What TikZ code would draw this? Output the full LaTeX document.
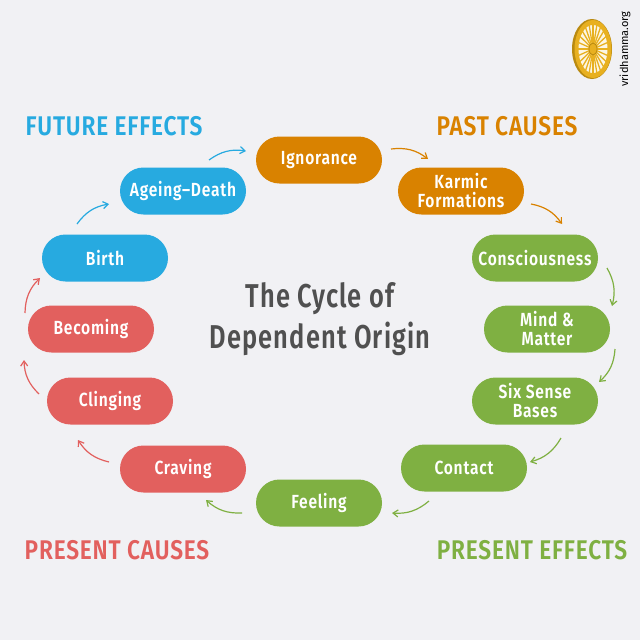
\documentclass[tikz,border=0pt]{standalone}
\usepackage{fontspec}
\setmainfont{Fira Sans}
\newfontfamily\nodef[FakeStretch=0.82,LetterSpace=4]{Fira Sans SemiBold}
\newfontfamily\headf[FakeStretch=0.84,LetterSpace=3]{Fira Sans SemiBold}
\newfontfamily\titlef[FakeStretch=0.77,LetterSpace=3.5]{Fira Sans SemiBold}
\usetikzlibrary{arrows.meta,shapes.misc}
\definecolor{bgc}{HTML}{F1F1F4}
\definecolor{oc}{HTML}{D98200}
\definecolor{gc}{HTML}{7FB042}
\definecolor{rc}{HTML}{E2605E}
\definecolor{bc}{HTML}{27AAE0}
\definecolor{tc}{HTML}{505050}
\definecolor{gold}{HTML}{E8B020}
\definecolor{goldd}{HTML}{B98A10}
\tikzset{
  pill/.style={rounded rectangle,minimum width=126pt,minimum height=47pt,inner sep=0pt,
    text=white,align=center,font=\nodef\fontsize{19}{19}\selectfont},
  conn/.style={line width=1.2pt,bend left=22,-{Straight Barb[length=5pt,width=7pt]}},
  head/.style={font=\headf\fontsize{27}{28}\selectfont,inner sep=0pt},
}
\begin{document}
\begin{tikzpicture}[x=1pt,y=-1pt]
\path[fill=bgc] (0,0) rectangle (640,640);
\useasboundingbox (0,0) rectangle (640,640);
\node[pill,fill=oc] (ign) at (319,160) {Ignorance};
\node[pill,fill=oc] (kar) at (461,191) {Karmic\\Formations};
\node[pill,fill=gc] (con) at (535,258) {Consciousness};
\node[pill,fill=gc] (mind) at (547,329) {Mind \&\\Matter};
\node[pill,fill=gc] (six) at (535,401) {Six Sense\\Bases};
\node[pill,fill=gc] (cont) at (464,468) {Contact};
\node[pill,fill=gc] (feel) at (319,503) {Feeling};
\node[pill,fill=rc] (crav) at (183,469) {Craving};
\node[pill,fill=rc] (cling) at (110,401) {Clinging};
\node[pill,fill=rc] (bec) at (91,329) {Becoming};
\node[pill,fill=bc] (birth) at (105,258) {Birth};
\node[pill,fill=bc] (age) at (183,191) {Ageing–Death};
\node[head,text=bc] (hff) at (114,126) {FUTURE EFFECTS};
\node[head,text=oc] (hpc) at (507,126) {PAST CAUSES};
\node[head,text=rc] (hprc) at (117,550) {PRESENT CAUSES};
\node[head,text=gc] (hpe) at (532,550) {PRESENT EFFECTS};
\node[text=tc,align=center,font=\titlef\fontsize{33}{41}\selectfont] (title) at (320,319) {The Cycle of\\Dependent Origin};
\draw[conn,bc] ([shift={(26,-31)}]age.center) to ([shift={(-73,-9)}]ign.center);
\draw[conn,oc] ([shift={(72,-11)}]ign.center) to ([shift={(-33,-32)}]kar.center);
\draw[conn,oc] ([shift={(70,13)}]kar.center) to ([shift={(27,-34)}]con.center);
\draw[conn,gc] ([shift={(72,10)}]con.center) to ([shift={(65,-23)}]mind.center);
\draw[conn,gc] ([shift={(68,20)}]mind.center) to ([shift={(64,-19)}]six.center);
\draw[conn,gc] ([shift={(26,37)}]six.center) to ([shift={(66,-6)}]cont.center);
\draw[conn,gc] ([shift={(-35,33)}]cont.center) to ([shift={(73,10)}]feel.center);
\draw[conn,gc] ([shift={(-77,10)}]feel.center) to ([shift={(23,31)}]crav.center);
\draw[conn,rc] ([shift={(-74,-7)}]crav.center) to ([shift={(-32,39)}]cling.center);
\draw[conn,rc] ([shift={(-71,-7)}]cling.center) to ([shift={(-67,31)}]bec.center);
\draw[conn,rc] ([shift={(-66,-16)}]bec.center) to ([shift={(-65,20)}]birth.center);
\draw[conn,bc] ([shift={(-28,-34)}]birth.center) to ([shift={(-74,13)}]age.center);
% logo
\coordinate (lc) at (592,49);
\fill[goldd] (lc) ellipse (20pt and 30pt);
\fill[gold] ([xshift=1pt]lc) ellipse (18.5pt and 29pt);
\fill[white!88!gold] ([xshift=1pt]lc) ellipse (14.5pt and 24pt);
\foreach \a in {0,15,...,345}
  \draw[gold,line width=1.3pt] ([xshift=1pt]lc) -- ++({15*cos(\a)},{25*sin(\a)});
\fill[gold] ([xshift=1pt]lc) ellipse (4pt and 6pt);
\draw[goldd,line width=.8pt] ([xshift=1pt]lc) ellipse (4pt and 6pt);
\node[rotate=90,text=black,inner sep=0pt,font=\fontsize{11}{12}\selectfont] (vr) at (625,49) {vridhamma.org};
\end{tikzpicture}
\end{document}
